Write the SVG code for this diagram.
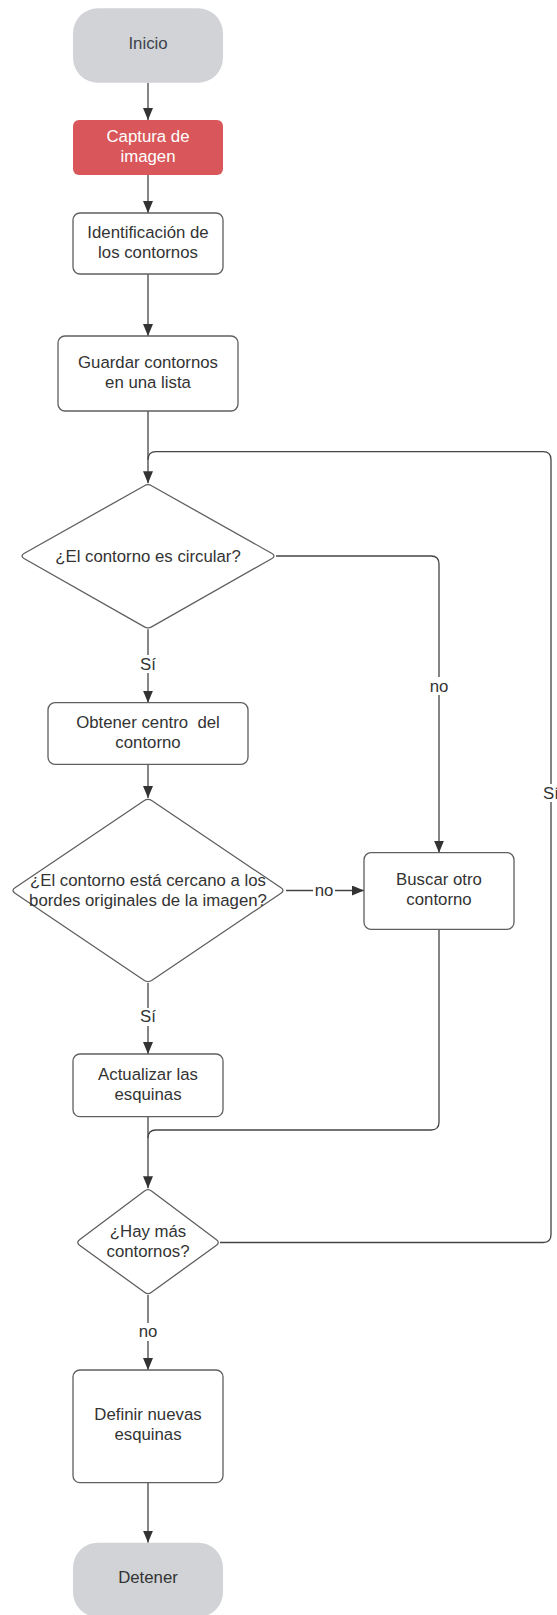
<svg xmlns="http://www.w3.org/2000/svg" width="557" height="1615" viewBox="0 0 557 1615">
  <defs>
    <marker id="arrow" viewBox="0 0 12 10" refX="12" refY="5" markerWidth="12" markerHeight="10" markerUnits="userSpaceOnUse" orient="auto">
      <path d="M0,0 L12,5 L0,10 Z" fill="#333333"/>
    </marker>
    <style>
      .box { fill: #ffffff; stroke: #5f5f5f; stroke-width: 1.3; }
      .term { fill: #d1d3d6; stroke: none; }
      .red { fill: #d9575a; stroke: none; }
      .dia { fill: #ffffff; stroke: #5f5f5f; stroke-width: 1.3; stroke-linejoin: round; }
      .t { font-family: "Liberation Sans", Arial, sans-serif; font-size: 16.8px; fill: #333333; text-anchor: middle; }
      .tw { fill: #ffffff; }
      .tg { fill: #3b424c; }
      .edge { fill: none; stroke: #444444; stroke-width: 1.3; }
      .lbg { fill: #ffffff; }
    </style>
  </defs>

  <rect width="557" height="1615" fill="#ffffff"/>

  <!-- connectors -->
  <g id="connectors">
    <path class="edge" d="M148 82.7 V120" marker-end="url(#arrow)"/>
    <path class="edge" d="M148 175 V213" marker-end="url(#arrow)"/>
    <path class="edge" d="M148 274 V336" marker-end="url(#arrow)"/>
    <path class="edge" d="M148 411 V483.3" marker-end="url(#arrow)"/>
    <path class="edge" d="M148 629.3 V702.7" marker-end="url(#arrow)"/>
    <path class="edge" d="M276 556 H431 Q439 556 439 564 V852.7" marker-end="url(#arrow)"/>
    <path class="edge" d="M148 764.3 V798" marker-end="url(#arrow)"/>
    <path class="edge" d="M286 890.5 H364" marker-end="url(#arrow)"/>
    <path class="edge" d="M148 983 V1054" marker-end="url(#arrow)"/>
    <path class="edge" d="M148 1117 V1188.3" marker-end="url(#arrow)"/>
    <path class="edge" d="M439 929.3 V1122 Q439 1130 431 1130 H156 Q148 1130 148 1138"/>
    <path class="edge" d="M220 1242.5 H543 Q551 1242.5 551 1234.5 V459.7 Q551 451.7 543 451.7 H156 Q148 451.7 148 459.7"/>
    <path class="edge" d="M148 1295 V1370" marker-end="url(#arrow)"/>
    <path class="edge" d="M148 1482.7 V1542.7" marker-end="url(#arrow)"/>

    <!-- edge labels -->
    <rect class="lbg" x="140" y="655" width="16" height="18"/>
    <text class="t" x="148" y="670">Sí</text>
    <rect class="lbg" x="428" y="677" width="22" height="18"/>
    <text class="t" x="439" y="691.5">no</text>
    <rect class="lbg" x="313" y="882" width="22" height="16"/>
    <text class="t" x="324" y="895.7">no</text>
    <rect class="lbg" x="140" y="1008" width="16" height="18"/>
    <text class="t" x="148" y="1022.4">Sí</text>
    <rect class="lbg" x="543" y="784" width="16" height="18"/>
    <text class="t" x="551" y="798.7">Sí</text>
    <rect class="lbg" x="137" y="1323" width="22" height="18"/>
    <text class="t" x="148" y="1337.4">no</text>
  </g>

  <g id="inicio">
    <rect class="term" x="73" y="8.3" width="150" height="74.4" rx="25" ry="25"/>
    <text class="t tg" x="148" y="49">Inicio</text>
  </g>

  <g id="captura">
    <rect class="red" x="73" y="120" width="150" height="55" rx="6" ry="6"/>
    <text class="t tw" x="148" y="141.7">Captura de</text>
    <text class="t tw" x="148" y="161.7">imagen</text>
  </g>

  <g id="identificacion">
    <rect class="box" x="73" y="213" width="150" height="61" rx="7" ry="7"/>
    <text class="t" x="148" y="238">Identificación de</text>
    <text class="t" x="148" y="258">los contornos</text>
  </g>

  <g id="guardar">
    <rect class="box" x="58" y="336" width="180" height="75" rx="7" ry="7"/>
    <text class="t" x="148" y="367.5">Guardar contornos</text>
    <text class="t" x="148" y="387.5">en una lista</text>
  </g>

  <g id="circular">
    <path class="dia" d="M144 486 Q148 483.3 152 486 L272 553.5 Q276 556 272 558.5 L152 626.6 Q148 629.3 144 626.6 L24 558.5 Q20 556 24 553.5 Z"/>
    <text class="t" x="148" y="561.5">¿El contorno es circular?</text>
  </g>

  <g id="obtener">
    <rect class="box" x="48" y="702.7" width="200" height="61.6" rx="7" ry="7"/>
    <text class="t" x="148" y="727.7" xml:space="preserve">Obtener centro  del</text>
    <text class="t" x="148" y="747.5">contorno</text>
  </g>

  <g id="cercano">
    <path class="dia" d="M144 800.7 Q148 798 152 800.7 L281 887.8 Q285 890.5 281 893.2 L152 980.3 Q148 983 144 980.3 L15 893.2 Q11 890.5 15 887.8 Z"/>
    <text class="t" x="148" y="886">¿El contorno está cercano a los</text>
    <text class="t" x="148" y="906">bordes originales de la imagen?</text>
  </g>

  <g id="buscar">
    <rect class="box" x="364" y="852.7" width="150" height="76.6" rx="7" ry="7"/>
    <text class="t" x="439" y="884.7">Buscar otro</text>
    <text class="t" x="439" y="904.7">contorno</text>
  </g>

  <g id="actualizar">
    <rect class="box" x="73" y="1054" width="150" height="62.7" rx="7" ry="7"/>
    <text class="t" x="148" y="1079.7">Actualizar las</text>
    <text class="t" x="148" y="1099.7">esquinas</text>
  </g>

  <g id="hay-mas">
    <path class="dia" d="M144.5 1191 Q148 1188.3 151.5 1191 L216.5 1239.8 Q220 1242.5 216.5 1245.2 L151.5 1292.3 Q148 1295 144.5 1292.3 L79.5 1245.2 Q76 1242.5 79.5 1239.8 Z"/>
    <text class="t" x="148" y="1237.4">¿Hay más</text>
    <text class="t" x="148" y="1257.4">contornos?</text>
  </g>

  <g id="definir">
    <rect class="box" x="73" y="1370" width="150" height="112.7" rx="7" ry="7"/>
    <text class="t" x="148" y="1419.7">Definir nuevas</text>
    <text class="t" x="148" y="1439.7">esquinas</text>
  </g>

  <g id="detener">
    <rect class="term" x="73" y="1542.7" width="150" height="74.4" rx="25" ry="25"/>
    <text class="t" x="148" y="1583.4">Detener</text>
  </g>
</svg>
